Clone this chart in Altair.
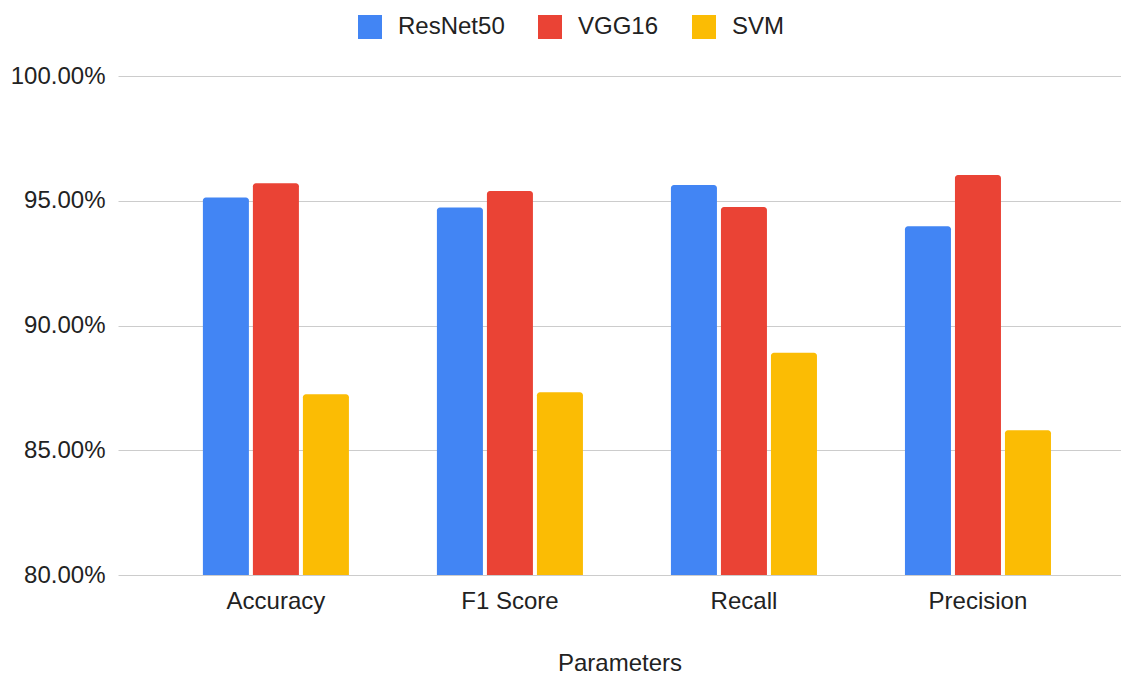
import altair as alt
import pandas as pd

categories = ["Accuracy", "F1 Score", "Recall", "Precision"]
series = ["ResNet50", "VGG16", "SVM"]
resnet50 = [95.13, 94.73, 95.63, 93.98]
vgg16 = [95.70, 95.39, 94.75, 96.03]
svm = [87.24, 87.32, 88.91, 85.80]
colors = ["#4285F4", "#EA4335", "#FBBC04"]
y_ticks = [0.80, 0.85, 0.90, 0.95, 1.00]

rows = []
for name, vals in zip(series, [resnet50, vgg16, svm]):
    for c, v in zip(categories, vals):
        rows.append({"Parameters": c, "Model": name, "Value": v / 100.0})
df = pd.DataFrame(rows)

FONT = "Liberation Sans"

chart = alt.Chart(df).mark_bar(
    cornerRadiusTopLeft=3, cornerRadiusTopRight=3
).encode(
    x=alt.X("Parameters:N", sort=categories,
            scale=alt.Scale(paddingInner=0.376, paddingOuter=0.331, align=0.548),
            axis=alt.Axis(labelAngle=0, ticks=False, domain=False, labelPadding=14,
                          titlePadding=38, labelFontSize=24, titleFontSize=24,
                          titleFontWeight="normal", labelColor="#222222",
                          titleColor="#222222", labelFont=FONT, titleFont=FONT)),
    xOffset=alt.XOffset("Model:N", sort=series,
                        scale=alt.Scale(paddingInner=0.08, paddingOuter=0)),
    y=alt.Y("Value:Q", scale=alt.Scale(domain=[0.80, 1.00], zero=False, nice=False),
            title=None,
            axis=alt.Axis(values=y_ticks, format=".2%", ticks=False, domain=False,
                          labelPadding=13, labelFontSize=24, labelColor="#222222",
                          labelFont=FONT, gridColor="#cccccc", gridWidth=1)),
    y2=alt.datum(0.80),
    color=alt.Color("Model:N", sort=series,
                    scale=alt.Scale(domain=series, range=colors),
                    legend=alt.Legend(title=None, orient="none", direction="horizontal",
                                      legendX=240, legendY=-61,
                                      symbolType="square", symbolSize=576,
                                      symbolStrokeWidth=0, symbolOpacity=1,
                                      labelFontSize=24, labelFont=FONT,
                                      labelColor="#222222", labelOffset=16,
                                      columnPadding=33)),
).properties(
    width=1003, height=499,
    autosize=alt.AutoSizeParams(type="none"),
    padding={"left": 110, "top": 68, "right": 0, "bottom": 99},
).configure_view(stroke=None).configure_axis(labelFont=FONT, titleFont=FONT)

chart.save("out.html", embed_options={"renderer": "svg", "actions": False})
